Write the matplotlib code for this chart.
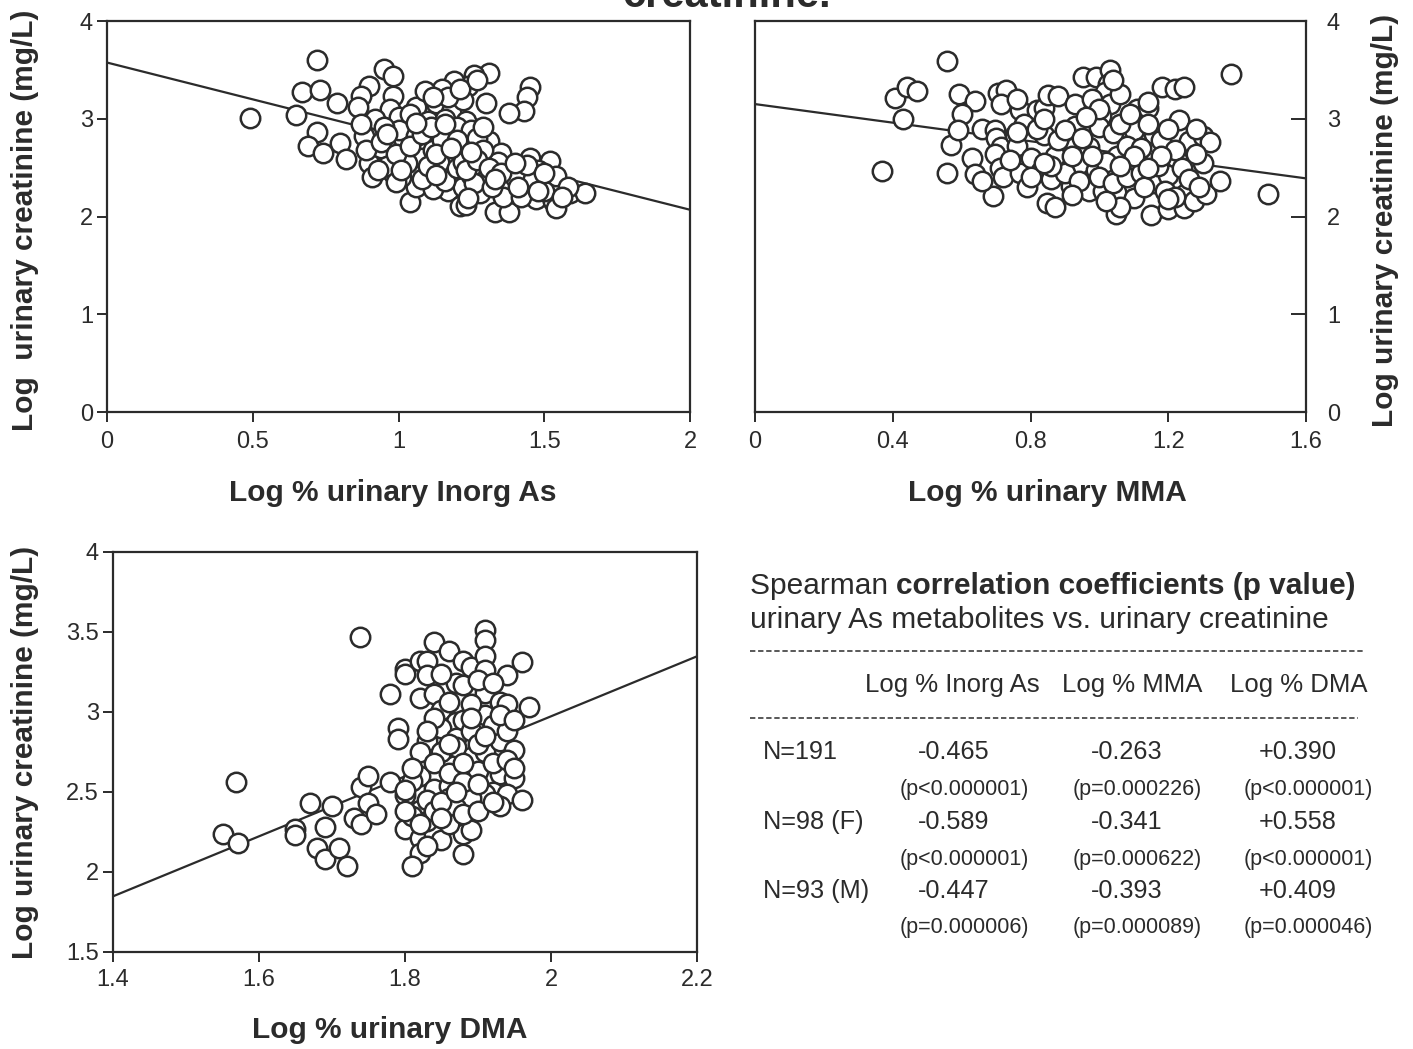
import matplotlib
matplotlib.use("Agg")
import matplotlib.pyplot as plt
from matplotlib.lines import Line2D

plt.rcParams['font.family'] = ['Liberation Sans', 'DejaVu Sans']

# ---------------- data ----------------
inorg_x = [0.49, 0.72, 0.67, 0.73, 0.65, 0.79, 0.72, 0.69, 0.74, 0.80, 0.82, 0.95, 0.98, 0.90, 0.87,
           0.86, 0.98, 0.97, 1.06, 0.91, 0.88, 0.97, 0.93, 0.90, 0.98, 1.05, 1.05, 0.91, 0.98, 1.04,
           1.02, 1.31, 1.26, 1.45, 1.44, 1.43, 1.38, 1.30, 1.24, 1.19, 1.15, 1.09, 1.13, 1.18, 1.22,
           1.23, 1.07, 1.14, 1.18, 1.09, 1.19, 1.23, 1.31, 1.35, 1.28, 1.33, 1.39, 1.45, 1.52, 1.11,
           1.18, 1.06, 1.17, 1.22, 1.28, 1.21, 1.23, 1.33, 1.38, 1.38, 1.44, 1.49, 1.47, 1.53, 1.54,
           1.59, 1.64, 1.54, 1.12, 1.16, 1.00, 1.02, 0.94, 0.96, 1.08, 1.12, 1.14, 1.20, 1.25, 1.26,
           1.30, 1.36, 1.42, 1.40, 1.48, 1.50, 1.10, 1.16, 1.20, 1.25, 1.00, 1.04, 0.92, 0.89, 0.87,
           0.93, 1.01, 1.08, 1.15, 1.27, 1.22, 1.34, 1.29, 1.10, 0.99, 1.36, 1.42, 1.26, 1.17, 1.21,
           1.27, 1.12, 1.00, 1.06, 0.95, 1.20, 1.32, 1.46, 1.58, 1.56, 1.29, 1.03, 1.13, 1.24, 1.44,
           1.50, 0.94, 0.99, 1.04, 1.08, 1.13, 1.18, 1.23, 1.27, 1.31, 1.35, 1.40, 1.11, 1.16, 1.06,
           0.96, 1.01, 1.25, 1.33, 1.41, 1.48]
creat_1 = [3.01, 3.60, 3.27, 3.29, 3.04, 3.16, 2.86, 2.72, 2.65, 2.75, 2.59, 3.51, 3.44, 3.33, 3.23,
           3.12, 3.23, 3.10, 3.12, 2.90, 2.82, 2.80, 2.62, 2.55, 2.59, 2.66, 2.48, 2.40, 2.44, 2.15,
           2.91, 3.47, 3.45, 3.32, 3.22, 3.08, 3.06, 3.16, 3.33, 3.39, 3.30, 3.28, 3.16, 3.07, 3.19,
           2.98, 2.89, 2.88, 2.85, 2.73, 2.62, 2.72, 2.77, 2.65, 2.53, 2.45, 2.49, 2.60, 2.57, 2.46,
           2.41, 2.30, 2.26, 2.30, 2.24, 2.11, 2.12, 2.05, 2.05, 2.28, 2.31, 2.34, 2.18, 2.16, 2.41,
           2.24, 2.24, 2.09, 2.28, 2.36, 2.70, 2.78, 2.70, 2.52, 2.60, 2.68, 2.56, 2.50, 2.42, 2.62,
           2.38, 2.36, 2.44, 2.40, 2.48, 2.26, 2.98, 3.00, 2.92, 2.88, 3.02, 3.05, 3.00, 2.68, 2.95,
           2.48, 2.40, 2.38, 2.78, 2.80, 2.56, 2.56, 2.68, 2.52, 2.35, 2.20, 2.20, 2.34, 3.22, 3.30,
           3.40, 3.22, 2.88, 2.82, 2.92, 2.78, 2.30, 2.38, 2.30, 2.20, 2.92, 2.55, 2.42, 2.19, 2.53,
           2.45, 2.76, 2.64, 2.72, 2.84, 2.64, 2.70, 2.48, 2.58, 2.50, 2.44, 2.55, 2.92, 2.95, 2.96,
           2.84, 2.48, 2.66, 2.38, 2.30, 2.26]

mma_x = [0.558, 0.406, 0.44, 0.469, 0.43, 0.368, 0.558, 0.568, 0.591, 0.639, 0.60, 0.589, 0.63, 0.639,
         0.66, 0.698, 0.70, 0.714, 0.69, 0.707, 0.73, 0.714, 0.77, 0.756, 0.76, 0.698, 0.71, 0.72,
         0.77, 0.789, 0.80, 0.818, 0.839, 0.85, 0.88, 0.839, 0.83, 0.86, 0.87, 0.847, 0.87, 0.928,
         0.928, 0.952, 0.99, 1.03, 1.026, 1.016, 1.03, 1.005, 0.928, 0.97, 0.94, 0.917, 0.90, 0.99,
         0.97, 1.01, 1.05, 1.074, 1.048, 1.048, 1.10, 1.11, 1.14, 1.14, 1.16, 1.11, 1.10, 1.16, 1.16,
         1.15, 1.183, 1.22, 1.245, 1.23, 1.225, 1.20, 1.20, 1.19, 1.25, 1.246, 1.276, 1.26, 1.30, 1.32,
         1.30, 1.31, 1.35, 1.383, 1.49, 0.78, 0.82, 0.88, 0.90, 0.95, 1.00, 1.04, 1.06, 1.08, 1.12,
         1.14, 1.18, 1.20, 1.22, 1.24, 1.26, 1.28, 1.02, 1.00, 1.04, 1.08, 1.12, 1.13, 1.17, 1.22,
         1.06, 0.94, 0.86, 0.92, 0.80, 0.74, 0.66, 0.98, 1.00, 1.06, 1.09, 0.96, 0.84, 0.76, 1.28,
         1.18, 1.10, 0.98, 1.14, 1.06, 1.04, 0.84, 0.76, 0.92, 1.02, 1.29, 1.20]
creat_2 = [3.59, 3.21, 3.32, 3.28, 3.00, 2.47, 2.44, 2.73, 3.25, 3.18, 3.05, 2.88, 2.60, 2.43,
           2.90, 2.89, 2.80, 2.71, 2.21, 3.26, 3.29, 3.15, 3.09, 2.83, 2.72, 2.64, 2.50, 2.40,
           2.45, 2.30, 2.60, 3.09, 3.11, 3.24, 3.23, 2.83, 2.47, 2.38, 2.62, 2.14, 2.10, 3.15,
           2.93, 3.43, 3.43, 3.50, 3.36, 3.27, 3.15, 3.03, 2.71, 2.71, 2.54, 2.31, 2.45, 2.48,
           2.26, 2.26, 2.62, 2.47, 2.25, 2.03, 2.88, 3.10, 3.11, 3.17, 2.84, 2.57, 2.19, 2.66, 2.34,
           2.02, 3.32, 3.30, 3.32, 2.99, 2.59, 2.42, 2.08, 2.26, 2.23, 2.09, 2.16, 2.77, 2.82, 2.76,
           2.55, 2.23, 2.36, 3.46, 2.23, 2.95, 2.90, 2.78, 2.88, 2.80, 2.92, 2.85, 2.95, 2.72, 2.70,
           2.95, 2.78, 2.90, 2.68, 2.50, 2.38, 2.64, 2.56, 2.40, 2.34, 2.40, 2.44, 2.30, 2.52, 2.20,
           2.10, 2.36, 2.52, 2.62, 2.40, 2.58, 2.36, 3.20, 3.10, 3.25, 3.05, 3.02, 3.00, 2.86, 2.90,
           2.62, 2.62, 2.62, 2.50, 2.52, 3.40, 2.55, 3.20, 2.22, 2.16, 2.30, 2.18]

dma_x = [1.739, 1.569, 1.551, 1.571, 1.65, 1.65, 1.67, 1.70, 1.69, 1.68, 1.69, 1.71, 1.72, 1.73,
         1.74, 1.74, 1.75, 1.75, 1.76, 1.78, 1.78, 1.79, 1.79, 1.80, 1.80, 1.82, 1.83, 1.83, 1.84,
         1.86, 1.88, 1.89, 1.91, 1.91, 1.91, 1.91, 1.96, 1.94, 1.97, 1.82, 1.84, 1.87, 1.88, 1.91,
         1.93, 1.94, 1.85, 1.87, 1.88, 1.91, 1.93, 1.85, 1.83, 1.87, 1.82, 1.85, 1.89, 1.91, 1.93,
         1.95, 1.82, 1.81, 1.84, 1.86, 1.90, 1.93, 1.95, 1.92, 1.91, 1.94, 1.80, 1.82, 1.86, 1.89,
         1.93, 1.80, 1.82, 1.82, 1.84, 1.85, 1.88, 1.89, 1.88, 1.81, 1.80, 1.83, 1.83, 1.81, 1.84,
         1.86, 1.88, 1.90, 1.92, 1.94, 1.87, 1.89, 1.90, 1.92, 1.86, 1.84, 1.89, 1.90, 1.92, 1.85,
         1.81, 1.84, 1.87, 1.86, 1.88, 1.90, 1.92, 1.95, 1.96, 1.94, 1.83, 1.85, 1.87, 1.80, 1.82,
         1.85, 1.83, 1.86, 1.88, 1.89, 1.93, 1.95, 1.91]
creat_3 = [3.47, 2.56, 2.235, 2.18, 2.27, 2.23, 2.43, 2.41, 2.28, 2.15, 2.08, 2.15, 2.04, 2.34,
           2.30, 2.53, 2.60, 2.43, 2.36, 2.56, 3.11, 2.90, 2.83, 3.27, 3.24, 3.32, 3.32, 3.23, 3.44,
           3.38, 3.32, 3.28, 3.51, 3.45, 3.35, 3.26, 3.31, 3.23, 3.03, 3.09, 3.11, 3.18, 3.17, 3.12,
           3.06, 3.05, 3.01, 2.94, 2.95, 2.98, 2.90, 2.90, 2.82, 2.84, 2.75, 2.75, 2.72, 2.75, 2.82,
           2.76, 2.60, 2.57, 2.52, 2.54, 2.63, 2.61, 2.59, 2.50, 2.49, 2.49, 2.48, 2.39, 2.46, 2.46,
           2.41, 2.27, 2.21, 2.12, 2.24, 2.20, 2.24, 2.26, 2.11, 2.04, 2.51, 2.45, 2.32, 2.65, 2.68,
           2.62, 2.56, 2.55, 2.68, 2.70, 2.78, 2.88, 2.80, 2.92, 3.06, 2.96, 3.05, 3.20, 3.18, 3.24,
           2.35, 2.38, 2.40, 2.30, 2.36, 2.38, 2.44, 2.65, 2.45, 2.88, 2.88, 2.44, 2.50, 2.38, 2.30,
           2.34, 2.16, 2.80, 2.68, 2.96, 2.98, 2.95, 2.85]

# regression lines as printed: (intercept at x=0, slope)
fit_inorg = (3.575, -0.753)
fit_mma = (3.15, -0.475)
fit_dma = (1.848 - 1.875 * 1.4, 1.875)

x_ticks_1 = [0, 0.5, 1, 1.5, 2]
x_tick_labels_1 = ['0', '0.5', '1', '1.5', '2']
x_ticks_2 = [0, 0.4, 0.8, 1.2, 1.6]
x_tick_labels_2 = ['0', '0.4', '0.8', '1.2', '1.6']
x_ticks_3 = [1.4, 1.6, 1.8, 2.0, 2.2]
x_tick_labels_3 = ['1.4', '1.6', '1.8', '2', '2.2']
y_ticks_12 = [0, 1, 2, 3, 4]
y_tick_labels_12 = ['0', '1', '2', '3', '4']
y_ticks_3 = [1.5, 2, 2.5, 3, 3.5, 4]
y_tick_labels_3 = ['1.5', '2', '2.5', '3', '3.5', '4']

table_cols = ['Log % Inorg As', 'Log % MMA', 'Log % DMA']
table_rows = ['N=191', 'N=98 (F)', 'N=93 (M)']
table_rho = [['-0.465', '-0.263', '+0.390'],
             ['-0.589', '-0.341', '+0.558'],
             ['-0.447', '-0.393', '+0.409']]
table_p = [['(p<0.000001)', '(p=0.000226)', '(p<0.000001)'],
           ['(p<0.000001)', '(p=0.000622)', '(p<0.000001)'],
           ['(p=0.000006)', '(p=0.000089)', '(p=0.000046)']]

# ---------------- figure ----------------
W, H = 1413, 1049
fig = plt.figure(figsize=(W / 100, H / 100), dpi=100)
INK = '#2b2b2b'


def fx(px):
    return px / W


def fy(py):
    return 1 - py / H


def make_axes(l, r, t, b):
    return fig.add_axes([fx(l), fy(b), fx(r) - fx(l), fy(t) - fy(b)])


def style(ax):
    for s in ax.spines.values():
        s.set_color(INK)
        s.set_linewidth(1.6)
    ax.tick_params(colors=INK, labelcolor=INK, labelsize=17, width=1.4, length=7)


def scatter(ax, x, y, fit, xlim):
    ax.plot(x, y, linestyle='none', marker='o', markersize=14, markerfacecolor='white',
            markeredgecolor=INK, markeredgewidth=1.8, zorder=3)
    a, b = fit
    ax.plot(xlim, [a + b * xlim[0], a + b * xlim[1]], color=INK, lw=1.6, zorder=2)


label_font = dict(fontsize=21.5, fontweight='bold', color=INK)

# panel 1
ax1 = make_axes(107, 690, 21, 412)
style(ax1)
scatter(ax1, inorg_x, creat_1, fit_inorg, (0, 2))
ax1.set_xlim(0, 2)
ax1.set_ylim(0, 4)
ax1.set_xticks(x_ticks_1, x_tick_labels_1)
ax1.set_yticks(y_ticks_12, y_tick_labels_12)
ax1.tick_params(axis='x', pad=7)
ax1.tick_params(axis='y', pad=3)
ax1.set_xlabel('Log % urinary Inorg As', **label_font)
ax1.xaxis.set_label_coords(0.49, -0.207)
ax1.xaxis.label.set_va('center')
ax1.set_ylabel('Log  urinary creatinine (mg/L)', **label_font)
ax1.yaxis.set_label_coords(-0.141, 0.49)
ax1.yaxis.label.set_va('center')

# panel 2
ax2 = make_axes(755, 1306, 21, 412)
style(ax2)
scatter(ax2, mma_x, creat_2, fit_mma, (0, 1.6))
ax2.set_xlim(0, 1.6)
ax2.set_ylim(0, 4)
ax2.set_xticks(x_ticks_2, x_tick_labels_2)
ax2.set_yticks(y_ticks_12, y_tick_labels_12)
ax2.yaxis.tick_right()
ax2.yaxis.set_label_position('right')
ax2.tick_params(axis='y', direction='in', pad=15, length=11)
ax2.tick_params(axis='x', pad=7)
ax2.set_xlabel('Log % urinary MMA', **label_font)
ax2.xaxis.set_label_coords(0.53, -0.207)
ax2.xaxis.label.set_va('center')
ax2.set_ylabel('Log urinary creatinine (mg/L)', rotation=90, **label_font)
ax2.yaxis.set_label_coords(1.143, 0.49)
ax2.yaxis.label.set_va('center')

# panel 3
ax3 = make_axes(113, 697, 552, 952)
style(ax3)
scatter(ax3, dma_x, creat_3, fit_dma, (1.4, 2.2))
ax3.set_xlim(1.4, 2.2)
ax3.set_ylim(1.5, 4)
ax3.set_xticks(x_ticks_3, x_tick_labels_3)
ax3.set_yticks(y_ticks_3, y_tick_labels_3)
ax3.tick_params(axis='x', pad=5)
ax3.tick_params(axis='y', pad=3)
ax3.set_xlabel('Log % urinary DMA', **label_font)
ax3.xaxis.set_label_coords(0.474, -0.195)
ax3.xaxis.label.set_va('center')
ax3.set_ylabel('Log urinary creatinine (mg/L)', **label_font)
ax3.yaxis.set_label_coords(-0.151, 0.5)
ax3.yaxis.label.set_va('center')

# clipped title at top (only its lower edge is inside the page, as in the source)
fig.text(fx(727), fy(7), 'creatinine.', ha='center', va='baseline', fontsize=30,
         fontweight='bold', color=INK)

# ---------------- table ----------------
renderer = fig.canvas.get_renderer()
t1 = fig.text(fx(750), fy(586), 'Spearman ', ha='left', va='center', fontsize=21.5, color=INK)
bb = t1.get_window_extent(renderer=renderer)
fig.text(bb.x1 / W, fy(586), 'correlation coefficients (p value)', ha='left', va='center',
         fontsize=21.5, fontweight='bold', color=INK)
fig.text(fx(750), fy(620), 'urinary As metabolites vs. urinary creatinine', ha='left',
         va='center', fontsize=21.5, color=INK)

for y0, x1 in [(651, 1365), (718, 1358)]:
    fig.add_artist(Line2D([fx(750), fx(x1)], [fy(y0), fy(y0)], color=INK, lw=1.1,
                          linestyle=(0, (3.5, 1.8))))

col_x = [954, 1127, 1298]
head_x = [865, 1062, 1230]
for hx, name in zip(head_x, table_cols):
    fig.text(fx(hx), fy(685), name, ha='left', va='center', fontsize=18.5, color=INK)

row_y = [752, 822, 891]
for r, (ry, rname) in enumerate(zip(row_y, table_rows)):
    fig.text(fx(763), fy(ry), rname, ha='left', va='center', fontsize=18.2, color=INK)
    for c in range(3):
        fig.text(fx(col_x[c]), fy(ry), table_rho[r][c], ha='center', va='center',
                 fontsize=18.2, color=INK)
        fig.text(fx(col_x[c] + 10), fy(ry + 37), table_p[r][c], ha='center', va='center',
                 fontsize=15.5, color=INK)

fig.savefig('out.png', dpi=100, facecolor='white')
